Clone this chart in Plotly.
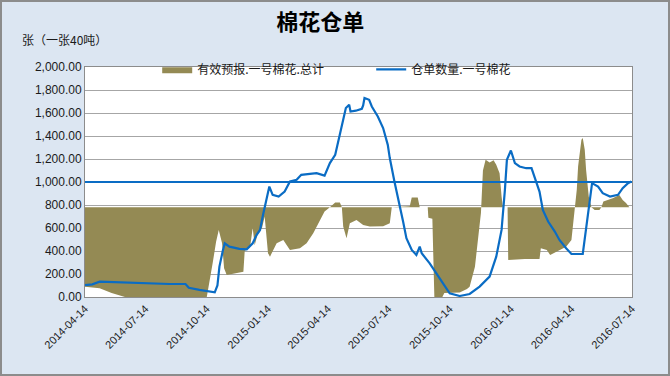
import plotly.graph_objects as go

# ---------------- data ----------------
title_text = "棉花仓单"
y_unit_label = "张（一张40吨）"
area_name = "有效预报.一号棉花.总计"
line_name = "仓单数量.一号棉花"

tick_dates = ["2014-04-14", "2014-07-14", "2014-10-14", "2015-01-14", "2015-04-14",
              "2015-07-14", "2015-10-14", "2016-01-14", "2016-04-14", "2016-07-14"]

receipt_dates = [
    "2014-04-14", "2014-04-25", "2014-05-06", "2014-05-29", "2014-06-20", "2014-07-21",
    "2014-08-19", "2014-09-12", "2014-09-17", "2014-10-03", "2014-10-26", "2014-10-30",
    "2014-11-02", "2014-11-07", "2014-11-10", "2014-11-17", "2014-12-02", "2014-12-13",
    "2014-12-22", "2014-12-28", "2015-01-02", "2015-01-06", "2015-01-10", "2015-01-16",
    "2015-01-21", "2015-01-30", "2015-02-08", "2015-02-16", "2015-02-26", "2015-03-05",
    "2015-03-18", "2015-03-28", "2015-04-09", "2015-04-17", "2015-04-25", "2015-05-02",
    "2015-05-07", "2015-05-11", "2015-05-16", "2015-05-18", "2015-05-26", "2015-06-04",
    "2015-06-06", "2015-06-08", "2015-06-15", "2015-06-19", "2015-06-28", "2015-07-06",
    "2015-07-13", "2015-07-16", "2015-07-23", "2015-07-30", "2015-08-05", "2015-08-10",
    "2015-08-18", "2015-08-25", "2015-08-30", "2015-09-02", "2015-09-14", "2015-09-24",
    "2015-10-04", "2015-10-14", "2015-10-29", "2015-11-13", "2015-11-28", "2015-12-13",
    "2015-12-23", "2015-12-31", "2016-01-05", "2016-01-08", "2016-01-14", "2016-01-20",
    "2016-01-27", "2016-02-06", "2016-02-14", "2016-02-19", "2016-02-26", "2016-03-02",
    "2016-03-10", "2016-03-20", "2016-03-27", "2016-04-06", "2016-04-14", "2016-05-01",
    "2016-05-06", "2016-05-09", "2016-05-15", "2016-05-24", "2016-05-31", "2016-06-11",
    "2016-06-23", "2016-06-30", "2016-07-08", "2016-07-13"]
receipt_values = [
    104, 110, 133, 128, 122, 117,
    113, 113, 80, 62, 41, 100,
    264, 400, 467, 438, 418, 415,
    467, 540, 583, 700, 800, 960,
    888, 873, 917, 1004, 1019, 1062,
    1071, 1077, 1056, 1164, 1236, 1410,
    1541, 1643, 1672, 1613, 1620, 1637,
    1666, 1730, 1715, 1657, 1570, 1469,
    1323, 1208, 1004, 830, 656, 511,
    409, 366, 438, 380, 293, 206,
    119, 32, 9, 26, 90, 177,
    351, 583, 932, 1193, 1274, 1164,
    1135, 1120, 1120, 1033, 917, 757,
    656, 569, 496, 424, 374, 374,
    583, 750, 990, 960, 903, 873,
    888, 946, 990, 1004]

forecast_baseline = 780
forecast_dates = [
    "2014-04-14", "2014-05-06", "2014-05-24", "2014-06-13", "2014-10-14", "2014-10-19",
    "2014-10-23", "2014-10-28", "2014-11-01", "2014-11-06", "2014-11-09", "2014-11-13",
    "2014-11-26", "2014-12-08", "2014-12-10", "2014-12-18", "2014-12-22", "2014-12-25",
    "2014-12-30", "2015-01-05", "2015-01-09", "2015-01-14", "2015-01-17", "2015-01-27",
    "2015-02-06", "2015-02-16", "2015-03-03", "2015-03-13", "2015-03-23", "2015-04-02",
    "2015-04-09", "2015-04-17", "2015-04-25", "2015-05-02", "2015-05-05", "2015-05-07",
    "2015-05-12", "2015-05-17", "2015-05-27", "2015-06-06", "2015-06-16", "2015-07-06",
    "2015-07-16", "2015-07-19", "2015-08-15", "2015-08-18", "2015-08-27", "2015-08-30",
    "2015-09-11", "2015-09-12", "2015-09-18", "2015-09-21", "2015-10-03", "2015-10-06",
    "2015-10-29", "2015-11-09", "2015-11-13", "2015-11-21", "2015-11-26", "2015-11-30",
    "2015-12-03", "2015-12-07", "2015-12-13", "2015-12-19", "2015-12-23", "2015-12-28",
    "2015-12-31", "2016-01-02", "2016-01-09", "2016-01-10", "2016-02-04", "2016-02-26",
    "2016-02-28", "2016-03-08", "2016-03-13", "2016-03-18", "2016-03-27", "2016-04-06",
    "2016-04-14", "2016-04-19", "2016-04-22", "2016-04-24", "2016-04-29", "2016-05-01",
    "2016-05-04", "2016-05-06", "2016-05-10", "2016-05-14", "2016-05-19", "2016-05-26",
    "2016-05-29", "2016-06-01", "2016-06-08", "2016-06-15", "2016-06-25", "2016-06-30",
    "2016-07-05", "2016-07-10", "2016-07-14"]
forecast_values = [
    90, 76, 35, 0, 0, 150,
    300, 480, 583, 467, 250, 191,
    205, 220, 400, 430, 600, 450,
    560, 600, 700, 380, 351, 467,
    496, 409, 424, 467, 555, 670,
    743, 780, 821, 821, 780, 612,
    511, 641, 670, 627, 612, 615,
    641, 780, 790, 865, 865, 780,
    780, 690, 680, 0, 0, 35,
    40, 70, 90, 264, 496, 731,
    1100, 1193, 1170, 1190, 1150, 1077,
    873, 780, 780, 322, 330, 330,
    424, 409, 366, 380, 409, 438,
    496, 780, 932, 1135, 1367, 1382,
    1280, 1106, 873, 780, 757, 757,
    780, 830, 844, 859, 888, 844,
    818, 780, 780]

reference_level = 1000
y_ticks = list(range(0, 2001, 200))

# ---------------- style ----------------
OLIVE = "#948A54"
BLUE = "#0A6CC4"
BG = "#DCE6F2"
GRID = "#A6A6A6"
FONT = "Liberation Sans, Arial, sans-serif"
CJK = "Noto Sans CJK SC, sans-serif"

fig = go.Figure()

fig.add_trace(go.Scatter(
    x=[tick_dates[0], tick_dates[-1]], y=[forecast_baseline, forecast_baseline],
    mode="lines", line=dict(width=0, color=OLIVE), showlegend=False, hoverinfo="skip"))
fig.add_trace(go.Scatter(
    x=forecast_dates, y=forecast_values, name=area_name, mode="lines",
    line=dict(width=0, color=OLIVE), fill="tonexty", fillcolor=OLIVE))
fig.add_trace(go.Scatter(
    x=receipt_dates, y=receipt_values, name=line_name, mode="lines",
    line=dict(width=2.2, color=BLUE)))

fig.add_shape(type="line", xref="paper", yref="y", x0=0, x1=1,
              y0=reference_level, y1=reference_level,
              line=dict(color=BLUE, width=2), layer="above")

# outer chart border
fig.add_shape(type="rect", xref="paper", yref="paper",
              x0=-84 / 547, x1=584 / 547, y0=-78 / 230, y1=296 / 230,
              line=dict(color="#8C8C8C", width=2), fillcolor="rgba(0,0,0,0)", layer="below")

fig.update_layout(
    width=670, height=376,
    margin=dict(l=85, r=38, t=67, b=79, autoexpand=False),
    paper_bgcolor=BG, plot_bgcolor="white",
    font=dict(family=FONT, size=12, color="#1A1A1A"),
    title=dict(text=f"<b>{title_text}</b>", x=0.478, xanchor="center",
               y=0.94, yanchor="middle", yref="container",
               font=dict(family=CJK, size=22, color="black"),
               automargin=False),
    showlegend=True,
    legend=dict(orientation="h", x=0.132, xanchor="left", y=0.99, yanchor="middle",
                bgcolor="rgba(0,0,0,0)", font=dict(family=CJK, size=12, color="#1A1A1A"),
                entrywidth=169, entrywidthmode="pixels", itemwidth=30, traceorder="normal"),
    annotations=[dict(text=y_unit_label, xref="paper", yref="paper", x=-0.118, y=1.12,
                      xanchor="left", yanchor="middle", showarrow=False,
                      font=dict(family=CJK, size=12, color="#1A1A1A"))],
)

fig.update_xaxes(
    type="date", range=[tick_dates[0], tick_dates[-1]], automargin=False,
    tickvals=tick_dates, ticktext=tick_dates, tickangle=-45,
    tickfont=dict(family=FONT, size=11, color="#1A1A1A"),
    showgrid=False, showline=True, linecolor="#8C8C8C", linewidth=1, mirror=True,
    ticks="", zeroline=False)
fig.update_yaxes(
    range=[0, 2000], tickvals=y_ticks, tickformat=",.2f", automargin=False,
    tickfont=dict(family=FONT, size=12, color="#1A1A1A"),
    showgrid=True, gridcolor=GRID, gridwidth=1,
    showline=True, linecolor="#8C8C8C", linewidth=1, mirror=True,
    ticks="", zeroline=False)

fig.write_html("out.html", config={"displayModeBar": False},
               post_script="document.body.style.margin='0';document.body.style.overflow='hidden';")
